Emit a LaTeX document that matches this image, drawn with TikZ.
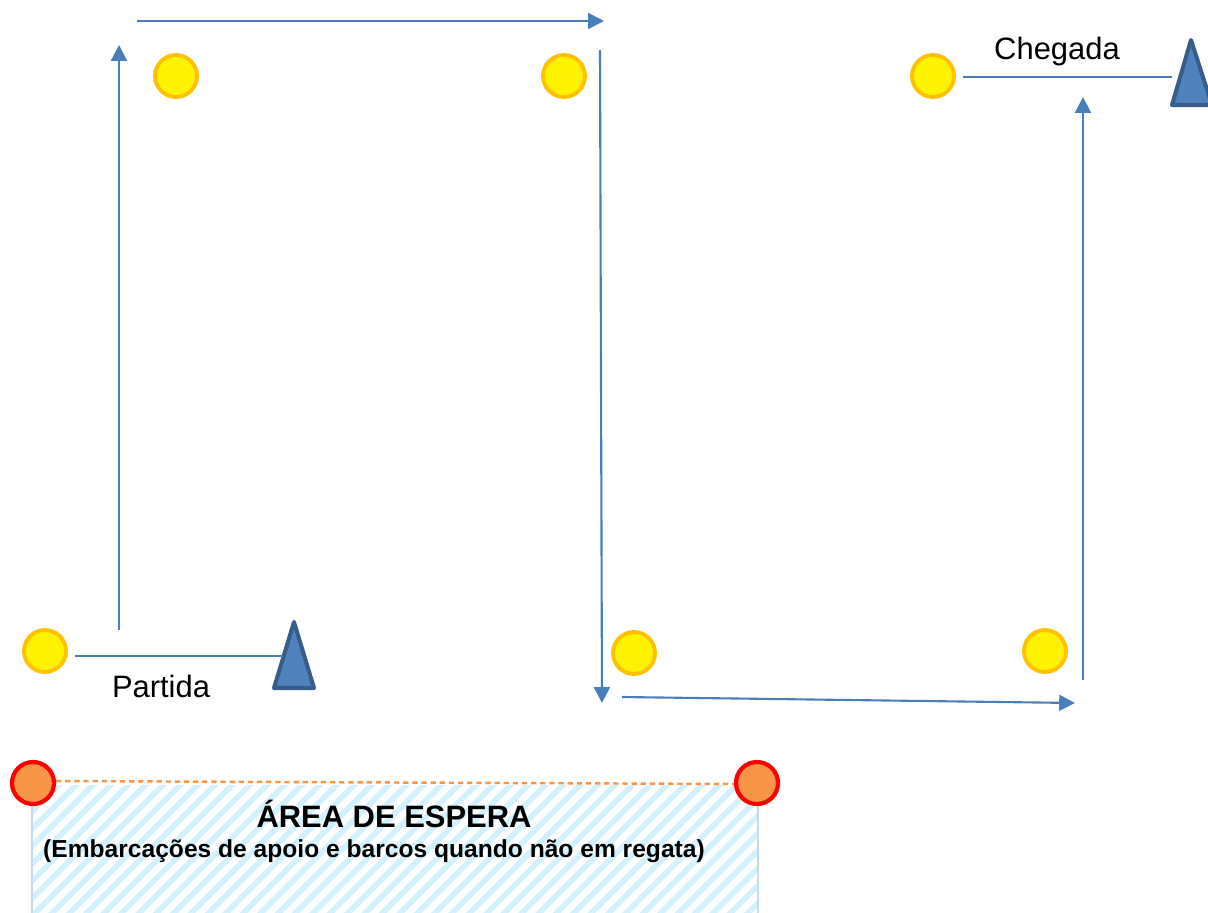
\documentclass[tikz,border=0pt]{standalone}
\usepackage{fontspec}
\setmainfont{Liberation Sans}
\usetikzlibrary{arrows.meta,patterns.meta}
\definecolor{azul}{HTML}{4A7EBB}
\definecolor{azulclaro}{HTML}{4F81BD}
\definecolor{azulescuro}{HTML}{385D8A}
\definecolor{boiaborda}{HTML}{FFC000}
\definecolor{laranja}{HTML}{F79646}
\definecolor{listra}{HTML}{D2F1FC}
\definecolor{borda}{HTML}{C6D9F1}
\begin{document}
\begin{tikzpicture}[x=.02cm,y=-.02cm,
  boia/.style={circle,fill=yellow,draw=boiaborda,line width=2.2pt,minimum size=.84cm,inner sep=0pt},
  boiafim/.style={circle,fill=laranja,draw=red,line width=2.4pt,minimum size=.84cm,inner sep=0pt},
  linha/.style={draw=azul,line width=1.2pt},
  seta/.style={linha,-{Triangle[length=9pt,width=9pt]}},
  sinal/.style={fill=azulclaro,draw=azulescuro,line width=2.3pt,line join=round},
  rotulo/.style={anchor=base,inner sep=0pt,font=\fontsize{17.6}{20}\selectfont}]
\useasboundingbox (0,0) rectangle (1208,913);
% area de espera
\fill[pattern={Lines[angle=45,distance=7pt,line width=3.2pt]},pattern color=listra] (32,785) rectangle (758,913);
\draw[borda,line width=.6pt] (32,913) -- (32,785) (758,785) -- (758,913);
\coordinate (e1) at (56,781);
\coordinate (e2) at (735,784);
\draw[laranja,line width=1.4pt,dash pattern=on 3pt off 2.2pt] (e1) -- (e2);
\node[boiafim] (r1) at (33,783) {};
\node[boiafim] (r2) at (757,783) {};
\node[anchor=base,inner sep=0pt,font=\bfseries\fontsize{17.6}{20}\selectfont] (titulo) at (394,827) {ÁREA DE ESPERA};
\node[anchor=base,inner sep=0pt,font=\bfseries\fontsize{14}{16}\selectfont] (sub) at (374,857) {(Embarcações de apoio e barcos quando não em regata)};
% boias
\node[boia] (b1) at (176,76) {};
\node[boia] (b2) at (564,76) {};
\node[boia] (b3) at (933,76) {};
\node[boia] (b4) at (45,651) {};
\node[boia] (b5) at (634,653) {};
\node[boia] (b6) at (1045,651) {};
% partida e chegada
\draw[sinal] (294,622) -- (314,688) -- (274,688) -- cycle;
\draw[sinal] (1191,40) -- (1212,105) -- (1172,105) -- cycle;
\coordinate (p1) at (75,656);
\coordinate (p2) at (283,656);
\draw[linha] (p1) -- (p2);
\node[rotulo] (partida) at (161,697) {Partida};
\coordinate (c1) at (963,77);
\coordinate (c2) at (1172,77);
\draw[linha] (c1) -- (c2);
\node[rotulo] (chegada) at (1057,59) {Chegada};
% percurso
\coordinate (s1) at (119,630);
\coordinate (s2) at (119,45);
\coordinate (s3) at (137,21);
\coordinate (s4) at (604,21);
\coordinate (s5) at (600,50);
\coordinate (s6) at (602,703);
\coordinate (s7) at (622,697);
\coordinate (s8) at (1075,703);
\coordinate (s9) at (1083,680);
\coordinate (s10) at (1083,97);
\draw[seta] (s1) -- (s2);
\draw[seta] (s3) -- (s4);
\draw[seta] (s5) -- (s6);
\draw[seta] (s7) -- (s8);
\draw[seta] (s9) -- (s10);
\end{tikzpicture}
\end{document}
